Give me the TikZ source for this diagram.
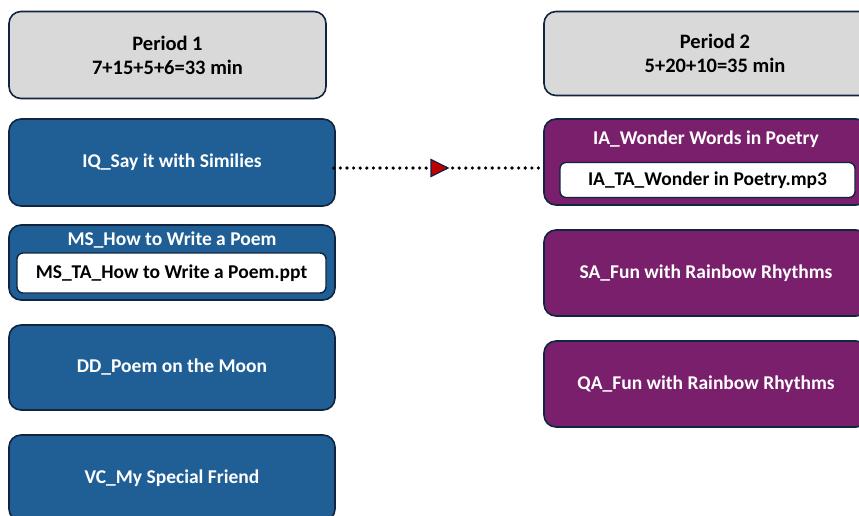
\documentclass[tikz,border=0pt]{standalone}
\usepackage{fontspec}
\setmainfont{Carlito}
\usetikzlibrary{arrows.meta}
\definecolor{edge}{HTML}{10253F}
\definecolor{blueact}{HTML}{1F5F96}
\definecolor{purpact}{HTML}{7A1F6C}
\definecolor{greyhead}{HTML}{D9D9D9}
\definecolor{tipred}{HTML}{C00000}
\tikzset{
  box/.style={draw=edge, line width=1.6pt, rounded corners=12pt, inner sep=0pt,
    align=center, font=\bfseries\fontsize{19.5}{24}\selectfont},
  headbox/.style={box, fill=greyhead, text=black, font=\bfseries\fontsize{20.5}{24}\selectfont},
  bluebox/.style={box, fill=blueact, text=white},
  purpbox/.style={box, fill=purpact, text=white},
  filebox/.style={draw=edge, line width=1.4pt, rounded corners=6pt, fill=white,
    inner sep=0pt, font=\bfseries\fontsize{19.5}{22}\selectfont},
  title/.style={text=white, font=\bfseries\fontsize{19.5}{22}\selectfont, inner sep=0pt},
  link/.style={line width=3.6pt, line cap=round, dash pattern=on 0pt off 6.6pt, draw=black},
}
\begin{document}
\begin{tikzpicture}[x=1pt,y=-1pt]
\useasboundingbox (0,0) rectangle (859,515);
\begin{scope}
\clip (0,0) rectangle (859,515);
% Period 1 column
\node[headbox, minimum width=317pt, minimum height=87pt] (p1) at (167.5,55)
  {Period 1\\7+15+5+6=33 min};
\node[bluebox, minimum width=326pt, minimum height=87pt] (iq) at (172,162.5)
  {IQ\_Say it with Similies};
\node[bluebox, minimum width=326pt, minimum height=75pt] (ms) at (172,262.5) {};
\node[title] (mst) at (172,240.5) {MS\_How to Write a Poem};
\node[filebox, minimum width=309pt, minimum height=40pt] (msf) at (171.5,273)
  {MS\_TA\_How to Write a Poem.ppt};
\node[bluebox, minimum width=326pt, minimum height=85pt] (dd) at (172,367.5)
  {DD\_Poem on the Moon};
\node[bluebox, minimum width=326pt, minimum height=86pt] (vc) at (172,478)
  {VC\_My Special Friend};
% Period 2 column
\node[headbox, minimum width=342pt, minimum height=84pt] (p2) at (715,53.5)
  {Period 2\\5+20+10=35 min};
\node[purpbox, minimum width=324pt, minimum height=86pt] (ia) at (706,162) {};
\node[title] (iat) at (706,139.5) {IA\_Wonder Words in Poetry};
\node[filebox, minimum width=295pt, minimum height=35pt] (iaf) at (707.5,180)
  {IA\_TA\_Wonder in Poetry.mp3};
\node[purpbox, minimum width=324pt, minimum height=86pt] (sa) at (706,273)
  {SA\_Fun with Rainbow Rhythms};
\node[purpbox, minimum width=324pt, minimum height=86pt] (qa) at (706,384)
  {QA\_Fun with Rainbow Rhythms};
\end{scope}
% Dotted link with a mid-way red arrowhead
\coordinate (ls) at ([xshift=-2pt]iq.east |- 0,168);
\coordinate (le) at ([xshift=-4pt]ia.west |- 0,168);
\draw[link] (ls) -- (le);
\coordinate (tipbase) at (431,168);
\coordinate (tippt) at (448,168);
\draw[edge, line width=1.2pt, fill=tipred, line join=miter]
  ([yshift=-8.5pt]tipbase) -- (tippt) -- ([yshift=8.5pt]tipbase) -- cycle;
\end{tikzpicture}
\end{document}
